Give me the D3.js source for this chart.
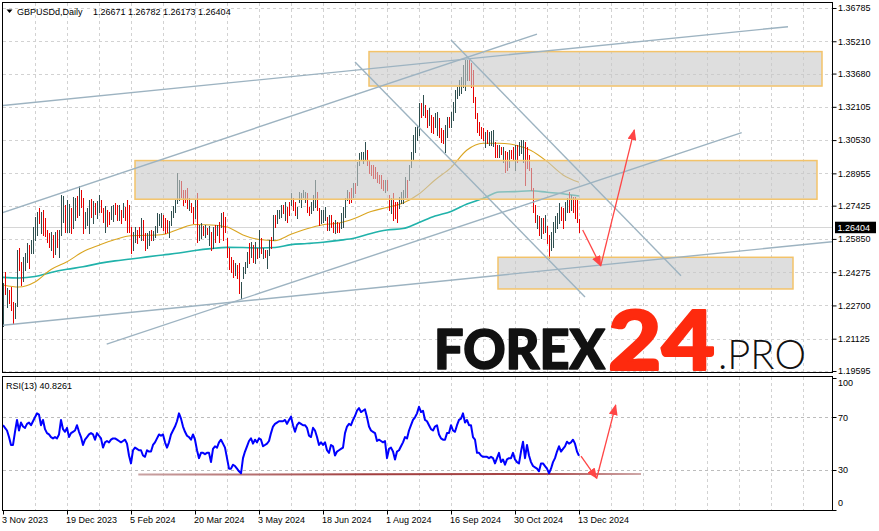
<!DOCTYPE html>
<html><head><meta charset="utf-8">
<script src="https://cdn.jsdelivr.net/npm/d3@7"></script>
<style>
body{margin:0;background:#fff;}
svg{display:block;font-family:"Liberation Sans",Arial,sans-serif;}
</style></head><body>
<svg id="c" width="879" height="531"></svg>
<script>
const symbolLabel = "GBPUSDd,Daily";
const rsiLabel = "RSI(13)";
const dateLabels = ["3 Nov 2023","19 Dec 2023","5 Feb 2024","20 Mar 2024","3 May 2024","18 Jun 2024","1 Aug 2024","16 Sep 2024","30 Oct 2024","13 Dec 2024"];
const dateLabelBars = [0,32,64,96,128,160,192,224,256,288];
const priceTicks = [1.36785,1.35210,1.33680,1.32105,1.30530,1.28955,1.27425,1.25850,1.24275,1.22700,1.21125,1.19595];
const rsiTicks = [100,70,30,0];
const rsiLevels = [70,30];
const firstOpen = 1.2210;

const high = [
1.2376,1.2428,1.2353,1.2343,1.2357,1.2286,1.2282,1.2532,1.2542,1.2476,
1.2499,1.2518,1.2566,1.2556,1.2580,1.2641,1.2689,1.2712,1.2731,1.2712,
1.2722,1.2684,1.2627,1.2613,1.2618,1.2604,1.2618,1.2627,1.2627,1.2793,
1.2788,1.2746,1.2769,1.2750,1.2731,1.2783,1.2779,1.2788,1.2836,1.2817,
1.2779,1.2712,1.2731,1.2769,1.2774,1.2765,1.2755,1.2765,1.2793,1.2769,
1.2731,1.2741,1.2722,1.2712,1.2741,1.2746,1.2755,1.2746,1.2746,1.2722,
1.2755,1.2736,1.2769,1.2746,1.2641,1.2618,1.2641,1.2627,1.2641,1.2684,
1.2675,1.2613,1.2613,1.2622,1.2627,1.2622,1.2646,1.2708,1.2703,1.2708,
1.2698,1.2684,1.2675,1.2670,1.2717,1.2741,1.2769,1.2897,1.2864,1.2859,
1.2817,1.2817,1.2826,1.2779,1.2755,1.2736,1.2769,1.2802,1.2651,1.2660,
1.2646,1.2651,1.2637,1.2646,1.2618,1.2641,1.2651,1.2651,1.2665,1.2708,
1.2712,1.2689,1.2589,1.2542,1.2499,1.2485,1.2471,1.2461,1.2471,1.2381,
1.2452,1.2476,1.2523,1.2566,1.2570,1.2556,1.2570,1.2542,1.2627,1.2589,
1.2542,1.2532,1.2532,1.2580,1.2594,1.2698,1.2698,1.2722,1.2722,1.2746,
1.2746,1.2760,1.2736,1.2760,1.2802,1.2779,1.2760,1.2736,1.2807,1.2802,
1.2817,1.2807,1.2802,1.2736,1.2760,1.2793,1.2864,1.2807,1.2731,1.2722,
1.2722,1.2736,1.2689,1.2698,1.2698,1.2665,1.2675,1.2665,1.2660,1.2708,
1.2736,1.2779,1.2817,1.2807,1.2826,1.2850,1.2850,1.2949,1.2992,1.2997,
1.2997,1.3044,1.3006,1.2959,1.2935,1.2935,1.2926,1.2902,1.2888,1.2888,
1.2864,1.2864,1.2864,1.2793,1.2779,1.2802,1.2760,1.2760,1.2783,1.2807,
1.2817,1.2878,1.2864,1.2935,1.2997,1.3077,1.3115,1.3124,1.3229,1.3229,
1.3266,1.3219,1.3196,1.3205,1.3172,1.3162,1.3181,1.3186,1.3158,1.3110,
1.3101,1.3124,1.3162,1.3162,1.3186,1.3233,1.3290,1.3304,1.3338,1.3352,
1.3409,1.3432,1.3432,1.3432,1.3418,1.3385,1.3257,1.3181,1.3139,1.3115,
1.3110,1.3091,1.3101,1.3091,1.3096,1.3101,1.3044,1.3030,1.3030,1.3020,
1.3020,1.3001,1.2997,1.3006,1.3006,1.3020,1.3030,1.3030,1.3044,1.3053,
1.3053,1.3044,1.3020,1.2982,1.2921,1.2826,1.2746,1.2698,1.2693,1.2684,
1.2684,1.2698,1.2646,1.2604,1.2618,1.2665,1.2693,1.2708,1.2755,1.2736,
1.2731,1.2760,1.2779,1.2807,1.2793,1.2783,1.2783,1.2769,1.26782];

const low = [
1.2173,1.2324,1.2263,1.2282,1.2248,1.2187,1.2210,1.2267,1.2438,1.2367,
1.2386,1.2438,1.2476,1.2447,1.2518,1.2518,1.2580,1.2604,1.2660,1.2613,
1.2604,1.2599,1.2570,1.2547,1.2532,1.2499,1.2514,1.2547,1.2499,1.2604,
1.2665,1.2618,1.2618,1.2618,1.2613,1.2637,1.2675,1.2689,1.2698,1.2736,
1.2613,1.2637,1.2651,1.2613,1.2689,1.2660,1.2703,1.2684,1.2712,1.2712,
1.2665,1.2618,1.2646,1.2656,1.2679,1.2670,1.2703,1.2675,1.2675,1.2660,
1.2689,1.2675,1.2618,1.2618,1.2518,1.2532,1.2570,1.2566,1.2594,1.2580,
1.2580,1.2532,1.2542,1.2556,1.2580,1.2580,1.2594,1.2618,1.2651,1.2641,
1.2627,1.2613,1.2618,1.2594,1.2651,1.2689,1.2712,1.2755,1.2769,1.2783,
1.2746,1.2760,1.2731,1.2722,1.2712,1.2660,1.2684,1.2570,1.2580,1.2589,
1.2604,1.2594,1.2608,1.2556,1.2532,1.2542,1.2570,1.2604,1.2570,1.2641,
1.2580,1.2618,1.2499,1.2443,1.2428,1.2405,1.2414,1.2400,1.2329,1.2305,
1.2400,1.2424,1.2452,1.2471,1.2499,1.2476,1.2471,1.2495,1.2499,1.2518,
1.2495,1.2499,1.2447,1.2509,1.2542,1.2580,1.2641,1.2660,1.2684,1.2689,
1.2708,1.2675,1.2665,1.2698,1.2746,1.2722,1.2698,1.2684,1.2760,1.2736,
1.2783,1.2760,1.2712,1.2698,1.2708,1.2722,1.2736,1.2722,1.2651,1.2660,
1.2665,1.2675,1.2627,1.2627,1.2641,1.2618,1.2613,1.2618,1.2618,1.2637,
1.2641,1.2689,1.2769,1.2755,1.2760,1.2783,1.2802,1.2840,1.2935,1.2959,
1.2945,1.2959,1.2935,1.2897,1.2888,1.2873,1.2873,1.2855,1.2850,1.2826,
1.2817,1.2807,1.2817,1.2722,1.2708,1.2675,1.2684,1.2665,1.2731,1.2755,
1.2755,1.2783,1.2783,1.2864,1.2926,1.2959,1.2997,1.3053,1.3077,1.3162,
1.3172,1.3162,1.3115,1.3124,1.3091,1.3087,1.3115,1.3077,1.3068,1.3044,
1.3039,1.2997,1.3068,1.3115,1.3115,1.3148,1.3186,1.3252,1.3266,1.3276,
1.3304,1.3290,1.3338,1.3338,1.3304,1.3233,1.3158,1.3091,1.3077,1.3063,
1.3053,1.3020,1.3039,1.3030,1.3030,1.3025,1.2973,1.2973,1.2973,1.2987,
1.2949,1.2902,1.2911,1.2926,1.2968,1.2959,1.2911,1.2949,1.2982,1.2992,
1.2949,1.2840,1.2921,1.2911,1.2817,1.2712,1.2665,1.2637,1.2604,1.2589,
1.2613,1.2618,1.2566,1.2495,1.2532,1.2547,1.2618,1.2637,1.2660,1.2675,
1.2637,1.2675,1.2712,1.2712,1.2722,1.2712,1.2684,1.2665,1.26173];

const close = [
1.2343,1.2334,1.2348,1.2296,1.2267,1.2210,1.2267,1.2509,1.2461,1.2390,
1.2476,1.2499,1.2542,1.2523,1.2561,1.2627,1.2665,1.2693,1.2675,1.2698,
1.2627,1.2608,1.2580,1.2561,1.2599,1.2523,1.2599,1.2561,1.2608,1.2769,
1.2779,1.2646,1.2741,1.2750,1.2637,1.2769,1.2774,1.2746,1.2817,1.2769,
1.2646,1.2703,1.2712,1.2750,1.2703,1.2746,1.2731,1.2750,1.2779,1.2722,
1.2712,1.2722,1.2665,1.2660,1.2727,1.2731,1.2712,1.2689,1.2731,1.2670,
1.2741,1.2684,1.2637,1.2627,1.2542,1.2599,1.2627,1.2613,1.2604,1.2665,
1.2599,1.2547,1.2594,1.2608,1.2589,1.2613,1.2637,1.2693,1.2698,1.2703,
1.2646,1.2622,1.2618,1.2656,1.2708,1.2731,1.2760,1.2840,1.2855,1.2793,
1.2769,1.2765,1.2741,1.2769,1.2750,1.2675,1.2750,1.2589,1.2637,1.2646,
1.2613,1.2637,1.2627,1.2632,1.2556,1.2627,1.2589,1.2641,1.2589,1.2693,
1.2637,1.2622,1.2514,1.2466,1.2438,1.2424,1.2457,1.2409,1.2343,1.2367,
1.2438,1.2461,1.2509,1.2485,1.2556,1.2547,1.2561,1.2532,1.2608,1.2532,
1.2537,1.2504,1.2518,1.2566,1.2551,1.2684,1.2651,1.2708,1.2712,1.2736,
1.2712,1.2746,1.2722,1.2708,1.2788,1.2769,1.2712,1.2727,1.2769,1.2788,
1.2793,1.2798,1.2731,1.2727,1.2750,1.2779,1.2817,1.2746,1.2665,1.2708,
1.2712,1.2727,1.2646,1.2684,1.2656,1.2627,1.2660,1.2656,1.2627,1.2693,
1.2722,1.2765,1.2807,1.2774,1.2769,1.2836,1.2817,1.2930,1.2978,1.2987,
1.2992,1.3025,1.2949,1.2911,1.2897,1.2883,1.2878,1.2864,1.2855,1.2840,
1.2826,1.2850,1.2821,1.2736,1.2765,1.2703,1.2693,1.2679,1.2769,1.2793,
1.2807,1.2864,1.2817,1.2921,1.2982,1.3063,1.3101,1.3115,1.3210,1.3172,
1.3243,1.3177,1.3129,1.3186,1.3110,1.3096,1.3167,1.3177,1.3082,1.3053,
1.3049,1.3110,1.3148,1.3124,1.3172,1.3219,1.3276,1.3295,1.3323,1.3342,
1.3385,1.3413,1.3423,1.3361,1.3319,1.3248,1.3172,1.3106,1.3087,1.3072,
1.3063,1.3077,1.3053,1.3077,1.3087,1.3091,1.2987,1.2978,1.3011,1.2997,
1.3006,1.2921,1.2916,1.2982,1.2973,1.2968,1.3015,1.2968,1.3030,1.3039,
1.3044,1.2959,1.2930,1.2921,1.2831,1.2727,1.2684,1.2693,1.2622,1.2627,
1.2618,1.2684,1.2580,1.2514,1.2604,1.2651,1.2675,1.2693,1.2741,1.2727,
1.2717,1.2750,1.2769,1.2736,1.2779,1.2741,1.2712,1.26671,1.26404];

const rsi = [
64,62,60,55,49,49,59,68,60,66,
63,62,65,66,64,67,70,73,72,64,
68,61,58,57,55,54,55,54,57,68,
61,59,62,55,58,59,60,64,59,55,
49,53,55,57,58,57,53,58,56,54,
47,51,52,51,53,54,54,53,52,51,
52,53,50,41,35,45,47,46,45,45,
41,40,45,44,44,49,51,54,57,56,
57,51,47,51,57,60,63,67,73,69,
63,59,56,55,53,57,53,45,39,43,
43,42,43,43,36,46,48,47,51,53,
50,47,39,31,31,34,33,31,29,27.5,
39,44,48,52,54,50,53,51,54,53,
48,49,50,52,58,63,65,66,67,67,
67,68,65,68,70.5,64,59,64,66,65,
64,64,62,56,55,62,60,55,49,51,
49,51,45,43,49,48,41,44,45,46,
47,58,63,65,64,68,71,75,77,74,
75,76,70,63,60,59,58,52,53,52,
51,52,39,46,47,44,38,44,45,48,
51,55,54,60,64,68,70,73,78,74,
75,68,67,64,61,60,63,64,57,54,
53,53,58,58,64,60,59,64,68,69,
73,66,68,64,64,55,53,43,43,41,
40,40,40,39,40,39,35,39,43,36,
38,34,38,39,39,43,38,36,35,44,
51.5,39,49,41,36,33,32,31,29,35,
35,33,31,27.5,31,36,39,44,48,44,
46,48,51.5,50,51,53,50,44,40.8261];

const maBars = [0,8,16,24,32,40,48,56,64,72,80,88,96,104,112,120,128,136,144,152,160,168,176,184,192,200,208,216,224,232,240,248,256,264,272,280,288];
const maFast = [1.2367,1.2357,1.2381,1.2440,1.2477,1.2524,1.2555,1.2582,1.2600,1.2602,1.2606,1.2632,1.2653,1.2651,1.2641,1.2604,1.2582,1.2577,1.2607,1.2633,1.2652,1.2660,1.2683,1.2715,1.2734,1.2755,1.2798,1.2864,1.2923,1.3006,1.3038,1.3038,1.3030,1.3004,1.2952,1.2888,1.2853];
const maSlow = [1.2403,1.2400,1.2407,1.2426,1.2441,1.2453,1.2469,1.2481,1.2490,1.2500,1.2509,1.2518,1.2530,1.2539,1.2545,1.2544,1.2542,1.2544,1.2558,1.2563,1.2569,1.2578,1.2589,1.2611,1.2627,1.2634,1.2663,1.2693,1.2715,1.2750,1.2776,1.2807,1.2809,1.2813,1.2806,1.2799,1.2788];

// chart objects anchored in (bar, price)
const zoneBars = [[183,409.5],[66,407],[247.5,395]];
const zonePrices = [[1.3472,1.3309],[1.2956,1.2773],[1.2498,1.2348]];
const trendBars = [[-0.5,392.5],[-0.5,267],[0,415],[51.85,369.35],[224,339],[176,291]];
const trendPrices = [[1.3216,1.3590],[1.2709,1.3555],[1.2176,1.2572],[1.2087,1.3088],[1.3527,1.2411],[1.3423,1.2310]];
const arrowBars = [[289.85,298.85],[298.85,315.65]];
const arrowPrices = [[1.2627,1.2457],[1.2457,1.3101]];
const rsiArrowBars = [[289,296.85],[296.85,306.35]];
const rsiArrowVals = [[40.6,23.7],[23.7,79.3]];
const rsiSupportBars = [67.65,319];
const rsiSupportVals = [26.5,27];

const n = close.length;
const open = close.map((c,i)=> i===0 ? firstOpen : close[i-1]);
const last = n-1;

const svg = d3.select("#c");
const FONT = "Liberation Sans, Arial, sans-serif";
const L = 2.5, R = 832.5, MT = 2.5, MB = 372.5, RT = 376.5, RB = 510.5;

const x = d3.scaleLinear().domain([0,288]).range([3,579]);
const y = d3.scaleLinear().domain([1.19595,1.36785]).range([371,8]);
const yr = d3.scaleLinear().domain([0,100]).range([509.5,377.8]);

const defs = svg.append("defs");
defs.append("clipPath").attr("id","cm").append("rect").attr("x",3).attr("y",3).attr("width",829).attr("height",369);
defs.append("clipPath").attr("id","cr").append("rect").attr("x",3).attr("y",377).attr("width",829).attr("height",133);
defs.append("marker").attr("id","ah").attr("markerUnits","userSpaceOnUse")
  .attr("markerWidth",11).attr("markerHeight",9).attr("refX",10).attr("refY",4.5).attr("orient","auto")
  .append("path").attr("d","M0,0 L11,4.5 L0,9 Z").attr("fill","#ff4545");
const grad = defs.append("linearGradient").attr("id","sg").attr("gradientUnits","userSpaceOnUse")
  .attr("x1",x(rsiSupportBars[0])).attr("x2",x(rsiSupportBars[1])).attr("y1",0).attr("y2",0);
grad.append("stop").attr("offset","0%").attr("stop-color","#c9a3a3");
grad.append("stop").attr("offset","45%").attr("stop-color","#a23e3e");
grad.append("stop").attr("offset","80%").attr("stop-color","#a84848");
grad.append("stop").attr("offset","100%").attr("stop-color","#cfa8a8");

const gridColor = "#d2d2d2";
const gridBars = d3.range(16, 420, 16);

// ---------- main panel ----------
const gm = svg.append("g").attr("clip-path","url(#cm)");
gm.selectAll("line.hg").data(priceTicks).join("line").attr("class","hg")
  .attr("x1",3).attr("x2",832).attr("y1",d=>Math.round(y(d))+0.5).attr("y2",d=>Math.round(y(d))+0.5)
  .attr("stroke",gridColor).attr("stroke-dasharray","3,3");
gm.selectAll("line.vg").data(gridBars).join("line").attr("class","vg")
  .attr("x1",d=>x(d)+0.5).attr("x2",d=>x(d)+0.5).attr("y1",3).attr("y2",372)
  .attr("stroke",gridColor).attr("stroke-dasharray","3,3");

// bid line
gm.append("line").attr("x1",3).attr("x2",832)
  .attr("y1",Math.round(y(close[last]))+0.5).attr("y2",Math.round(y(close[last]))+0.5)
  .attr("stroke","#d6d6d6");

// moving averages
const maLine = d3.line().x((d,i)=>x(maBars[i])).y(d=>y(d)).curve(d3.curveMonotoneX);
gm.append("path").attr("d",maLine(maSlow)).attr("fill","none").attr("stroke","#20b2aa").attr("stroke-width",1.6);
gm.append("path").attr("d",maLine(maFast)).attr("fill","none").attr("stroke","#daa520").attr("stroke-width",1.1);

// bars
gm.selectAll("line.bar").data(d3.range(n)).join("line").attr("class","bar")
  .attr("x1",i=>x(i)+0.5).attr("x2",i=>x(i)+0.5)
  .attr("y1",i=>Math.round(y(high[i]))).attr("y2",i=>Math.round(y(low[i]))+1)
  .attr("stroke",i=> close[i]>=open[i] ? "#2f4f4f" : "#e60000")
  .attr("stroke-width",1).attr("shape-rendering","crispEdges");

// zones
gm.selectAll("rect.zone").data(zoneBars).join("rect").attr("class","zone")
  .attr("x",d=>x(d[0])).attr("width",d=>x(d[1])-x(d[0]))
  .attr("y",(d,i)=>y(zonePrices[i][0])).attr("height",(d,i)=>y(zonePrices[i][1])-y(zonePrices[i][0]))
  .attr("fill","rgba(200,200,200,0.6)").attr("stroke","#f3c36a").attr("stroke-width",1.5);

// trend lines
gm.selectAll("line.tl").data(trendBars).join("line").attr("class","tl")
  .attr("x1",d=>x(d[0])).attr("x2",d=>x(d[1]))
  .attr("y1",(d,i)=>y(trendPrices[i][0])).attr("y2",(d,i)=>y(trendPrices[i][1]))
  .attr("stroke","#9db3c1").attr("stroke-width",1.4);

// arrows
gm.selectAll("line.ar").data(arrowBars).join("line").attr("class","ar")
  .attr("x1",d=>x(d[0])).attr("x2",d=>x(d[1]))
  .attr("y1",(d,i)=>y(arrowPrices[i][0])).attr("y2",(d,i)=>y(arrowPrices[i][1]))
  .attr("stroke","#ff4545").attr("stroke-width",1.3).attr("marker-end","url(#ah)");

// logo
const logo = svg.append("g");
logo.append("text").attr("x",434).attr("y",369).text("FOREX")
  .attr("font-family","Lato, Roboto, sans-serif").attr("font-weight",900).attr("font-size",55)
  .attr("textLength",171).attr("lengthAdjust","spacingAndGlyphs").attr("fill","#111")
  .attr("stroke","#111").attr("stroke-width",1.6).attr("stroke-linejoin","round");
logo.append("text").attr("x",608).attr("y",370).text("24")
  .attr("font-family","Lato, Roboto, sans-serif").attr("font-weight",900).attr("font-size",81)
  .attr("textLength",107).attr("lengthAdjust","spacingAndGlyphs").attr("fill","#fe2a0e")
  .attr("stroke","#fe2a0e").attr("stroke-width",2.2).attr("stroke-linejoin","round");
logo.append("text").attr("x",718).attr("y",369).text(".PRO")
  .attr("font-family","Lato, Roboto, sans-serif").attr("font-weight",300).attr("font-size",41)
  .attr("textLength",88).attr("lengthAdjust","spacingAndGlyphs").attr("fill","#111");

// header
svg.append("path").attr("d","M6.5,9.5 L12.5,9.5 L9.5,13 Z").attr("fill","#000");
svg.append("text").attr("x",17).attr("y",14.5).attr("font-size",9).attr("font-family",FONT)
  .text(symbolLabel);
svg.append("text").attr("x",93).attr("y",14.5).attr("font-size",9).attr("font-family",FONT)
  .text([open[last],high[last],low[last],close[last]].map(v=>v.toFixed(5)).join(" "));

// main border
svg.append("rect").attr("x",L).attr("y",MT).attr("width",R-L).attr("height",MB-MT)
  .attr("fill","none").attr("stroke","#000");

// price axis
const ya = d3.axisRight(y).tickValues(priceTicks).tickFormat(d=>d.toFixed(5)).tickSize(4).tickPadding(1.5);
svg.append("g").attr("transform",`translate(${R},0)`).call(ya)
  .call(g=>g.select(".domain").remove())
  .call(g=>g.selectAll("text").attr("font-size",9).attr("font-family",FONT).attr("fill","#000"));

// current price tag
const cy = y(close[last]);
svg.append("rect").attr("x",835).attr("y",cy-5.5).attr("width",41).attr("height",11.5).attr("fill","#000");
svg.append("text").attr("x",837.5).attr("y",cy+3.3).attr("font-size",9).attr("font-family",FONT)
  .attr("fill","#fff").text(close[last].toFixed(5));

// ---------- RSI panel ----------
const gr = svg.append("g").attr("clip-path","url(#cr)");
gr.selectAll("line.vg").data(gridBars).join("line").attr("class","vg")
  .attr("x1",d=>x(d)+0.5).attr("x2",d=>x(d)+0.5).attr("y1",377).attr("y2",510)
  .attr("stroke",gridColor).attr("stroke-dasharray","3,3");
gr.selectAll("line.lv").data(rsiLevels).join("line").attr("class","lv")
  .attr("x1",3).attr("x2",832).attr("y1",d=>Math.round(yr(d))+0.5).attr("y2",d=>Math.round(yr(d))+0.5)
  .attr("stroke","#bcbcbc").attr("stroke-dasharray","3,3");
gr.append("line").attr("x1",x(rsiSupportBars[0])).attr("x2",x(rsiSupportBars[1]))
  .attr("y1",yr(rsiSupportVals[0])).attr("y2",yr(rsiSupportVals[1]))
  .attr("stroke","url(#sg)").attr("stroke-width",2);
gr.append("path").attr("d",d3.line().x((d,i)=>x(i)).y(d=>yr(d))(rsi))
  .attr("fill","none").attr("stroke","#0000ff").attr("stroke-width",2).attr("stroke-linejoin","round");
gr.selectAll("line.ar").data(rsiArrowBars).join("line").attr("class","ar")
  .attr("x1",d=>x(d[0])).attr("x2",d=>x(d[1]))
  .attr("y1",(d,i)=>yr(rsiArrowVals[i][0])).attr("y2",(d,i)=>yr(rsiArrowVals[i][1]))
  .attr("stroke","#ff4545").attr("stroke-width",1.3).attr("marker-end","url(#ah)");

svg.append("rect").attr("x",L).attr("y",RT).attr("width",R-L).attr("height",RB-RT)
  .attr("fill","none").attr("stroke","#000");
svg.append("text").attr("x",6).attr("y",389).attr("font-size",9).attr("font-family",FONT)
  .text(rsiLabel + " " + rsi[last].toFixed(4));

// RSI axis
const ra = svg.append("g");
ra.selectAll("line").data(rsiTicks).join("line")
  .attr("x1",R).attr("x2",R+4).attr("y1",d=>Math.round(yr(d))+0.5).attr("y2",d=>Math.round(yr(d))+0.5)
  .attr("stroke","#000");
ra.selectAll("text").data(rsiTicks).join("text")
  .attr("x",R+5.5).attr("y",d=>Math.min(Math.max(yr(d),383),503)+3.2)
  .attr("font-size",9).attr("font-family",FONT).text(d=>d);

// date axis
const xa = d3.axisBottom(x).tickValues(dateLabelBars).tickFormat((d,i)=>dateLabels[i]).tickSize(4).tickPadding(2);
svg.append("g").attr("transform",`translate(0,${RB})`).call(xa)
  .call(g=>g.select(".domain").remove())
  .call(g=>g.selectAll("text").attr("font-size",9).attr("font-family",FONT).attr("text-anchor","start").attr("dx",-1.5).attr("fill","#000"));
</script>
</body></html>
